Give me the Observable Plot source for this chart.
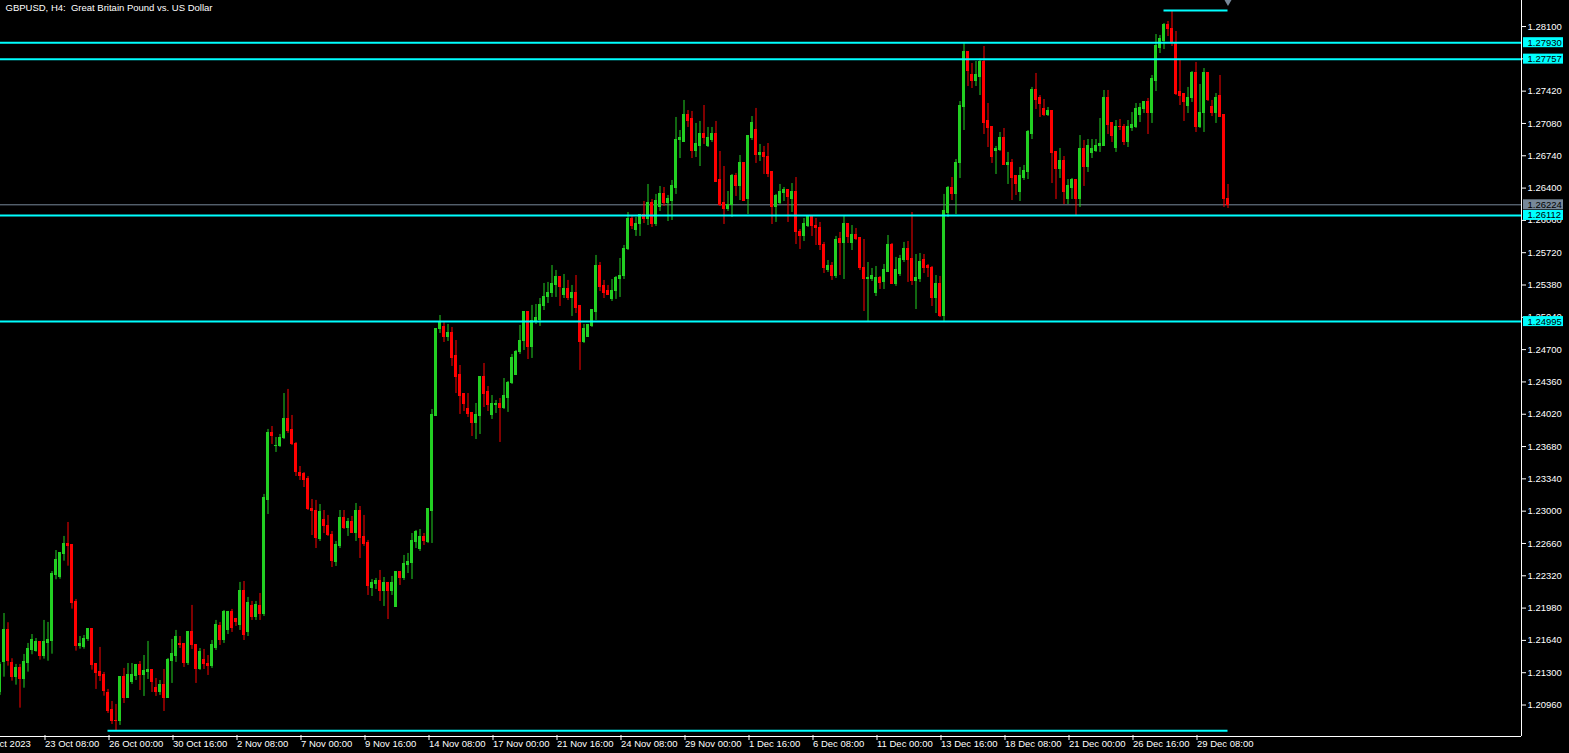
<!DOCTYPE html>
<html><head><meta charset="utf-8">
<script src="https://cdn.jsdelivr.net/npm/d3@7"></script>
<script src="https://cdn.jsdelivr.net/npm/@observablehq/plot@0.6"></script>
<style>html,body{margin:0;padding:0;background:#000;overflow:hidden}</style>
</head><body><div id="chart"></div>
<script>
const opens=[1.21092,1.21411,1.21745,1.21397,1.21253,1.21345,1.21229,1.21400,1.21534,1.21527,
1.21618,1.21481,1.21611,1.21632,1.22323,1.22302,1.22544,1.22650,1.22639,1.22039,
1.21579,1.21569,1.21650,1.21755,1.21387,1.21303,1.21271,1.21082,1.20903,1.20797,
1.20787,1.21250,1.21039,1.21197,1.21261,1.21376,1.21271,1.21303,1.21324,1.21134,
1.21092,1.21166,1.21039,1.21418,1.21481,1.21597,1.21597,1.21397,1.21724,1.21587,
1.21334,1.21439,1.21387,1.21366,1.21555,1.21787,1.21639,1.21745,1.21934,1.21860,
1.21797,1.22155,1.21724,1.21997,1.21881,1.21997,1.21923,1.23113,1.23818,1.23681,
1.23681,1.23765,1.23975,1.23849,1.23712,1.23397,1.23386,1.23334,1.23028,1.23007,
1.22702,1.22902,1.22849,1.22744,1.22460,1.22629,1.22923,1.22828,1.22881,1.22765,
1.22997,1.22723,1.22660,1.22187,1.22229,1.22260,1.22155,1.22239,1.22155,1.21987,
1.22355,1.22292,1.22429,1.22450,1.22671,1.22597,1.22723,1.22671,1.23007,1.23997,
1.24912,1.24933,1.24828,1.24880,1.24628,1.24428,1.24228,1.24070,1.24028,1.23933,
1.23997,1.24407,1.24249,1.24007,1.24112,1.24133,1.24081,1.24196,1.24344,1.24438,
1.24670,1.24786,1.25091,1.24723,1.24996,1.25007,1.25154,1.25249,1.25291,1.25375,
1.25459,1.25270,1.25343,1.25238,1.25291,1.25154,1.24775,1.24828,1.24944,1.25101,
1.25575,1.25365,1.25312,1.25228,1.25312,1.25438,1.25470,1.25754,1.26070,1.25964,
1.26017,1.26112,1.26070,1.26248,1.26017,1.26206,1.26333,1.26238,1.26269,1.26406,
1.26901,1.26880,1.27174,1.27122,1.26785,1.26838,1.26964,1.26848,1.26911,1.26974,
1.26480,1.26248,1.26185,1.26217,1.26522,1.26427,1.26669,1.26280,1.26932,1.27006,
1.26743,1.26764,1.26732,1.26564,1.26206,1.26238,1.26343,1.26385,1.26290,1.26354,
1.25943,1.25891,1.26006,1.26101,1.26006,1.25985,1.25796,1.25533,1.25585,1.25480,
1.25859,1.25817,1.26017,1.25817,1.25901,1.25870,1.25564,1.25438,1.25438,1.25291,
1.25449,1.25407,1.25522,1.25806,1.25386,1.25491,1.25638,1.25754,1.25649,1.25417,
1.25438,1.25638,1.25575,1.25564,1.25238,1.25386,1.25059,1.26143,1.26396,1.26333,
1.26659,1.27248,1.27827,1.27585,1.27522,1.27574,1.27732,1.27101,1.27038,1.26785,
1.26796,1.26922,1.26648,1.26669,1.26522,1.26364,1.26511,1.26564,1.26974,1.27427,
1.27343,1.27227,1.27174,1.27206,1.26775,1.26596,1.26690,1.26280,1.26406,1.26490,
1.26290,1.26806,1.26627,1.26764,1.26785,1.26838,1.26838,1.27343,1.27080,1.26817,
1.27048,1.27048,1.26890,1.27027,1.27048,1.27174,1.27227,1.27311,1.27185,1.27532,
1.27879,1.27953,1.28121,1.28079,1.27932,1.27406,1.27385,1.27259,1.27343,1.27616,
1.27038,1.27185,1.27616,1.27248,1.27185,1.27364,1.27164,1.26290];
const highs=[1.21408,1.21923,1.21826,1.21447,1.21387,1.21387,1.21492,1.21608,1.21702,1.21660,
1.21618,1.21850,1.21829,1.22365,1.22586,1.22565,1.22734,1.22881,1.22639,1.22071,
1.21681,1.21692,1.21755,1.21755,1.21387,1.21566,1.21303,1.21124,1.20997,1.20966,
1.21250,1.21345,1.21397,1.21397,1.21387,1.21418,1.21481,1.21629,1.21324,1.21239,
1.21218,1.21334,1.21450,1.21650,1.21745,1.21681,1.21608,1.21734,1.22008,1.21597,
1.21555,1.21545,1.21481,1.21639,1.21850,1.21829,1.21955,1.21945,1.21966,1.21871,
1.22250,1.22260,1.22092,1.22050,1.22050,1.22134,1.23176,1.23860,1.23891,1.23775,
1.23807,1.24238,1.24281,1.24007,1.23723,1.23470,1.23407,1.23365,1.23123,1.23113,
1.23070,1.23007,1.22955,1.22786,1.22681,1.23007,1.23007,1.22923,1.22944,1.23081,
1.23049,1.22955,1.22692,1.22281,1.22292,1.22376,1.22302,1.22250,1.22313,1.22355,
1.22355,1.22534,1.22555,1.22765,1.22797,1.22807,1.22765,1.23028,1.24070,1.24922,
1.25059,1.24986,1.24965,1.24933,1.24796,1.24533,1.24228,1.24238,1.24039,1.24133,
1.24417,1.24554,1.24312,1.24217,1.24165,1.24186,1.24396,1.24365,1.24649,1.24691,
1.24954,1.25091,1.25091,1.25165,1.25175,1.25238,1.25396,1.25407,1.25585,1.25533,
1.25459,1.25491,1.25428,1.25375,1.25480,1.25165,1.24965,1.24965,1.25122,1.25691,
1.25617,1.25428,1.25375,1.25438,1.25470,1.25659,1.25796,1.26143,1.26112,1.26091,
1.26112,1.26259,1.26438,1.26280,1.26333,1.26417,1.26406,1.26322,1.26480,1.27143,
1.27006,1.27322,1.27216,1.27206,1.27080,1.27101,1.27269,1.27038,1.27038,1.27101,
1.26785,1.26627,1.26364,1.26543,1.26554,1.26743,1.26669,1.26953,1.27153,1.27238,
1.26859,1.26838,1.26869,1.26564,1.26333,1.26438,1.26406,1.26385,1.26448,1.26511,
1.25964,1.26080,1.26101,1.26101,1.26080,1.26038,1.25828,1.25638,1.25617,1.25891,
1.25933,1.26101,1.26017,1.26006,1.25975,1.25870,1.25859,1.25617,1.25554,1.25575,
1.25470,1.25596,1.25901,1.25817,1.25670,1.25691,1.25828,1.25838,1.26143,1.25701,
1.25712,1.25701,1.25596,1.25575,1.25480,1.25470,1.26333,1.26417,1.26511,1.26701,
1.27311,1.27930,1.27827,1.27711,1.27732,1.27757,1.27890,1.27290,1.27038,1.26838,
1.26985,1.27027,1.26775,1.26701,1.26522,1.26617,1.26638,1.27006,1.27459,1.27606,
1.27374,1.27332,1.27248,1.27206,1.26785,1.26817,1.26732,1.26490,1.26501,1.26490,
1.26953,1.26901,1.26911,1.26911,1.26911,1.27132,1.27427,1.27427,1.27090,1.27111,
1.27122,1.27069,1.27111,1.27195,1.27290,1.27290,1.27311,1.27343,1.27585,1.28016,
1.28006,1.28132,1.28153,1.28268,1.28048,1.27743,1.27385,1.27459,1.27627,1.27722,
1.27490,1.27658,1.27616,1.27322,1.27395,1.27585,1.27174,1.26438];
const lows=[1.21061,1.21253,1.21369,1.21211,1.21169,1.20927,1.21137,1.21306,1.21489,1.21516,
1.21432,1.21443,1.21421,1.21495,1.22278,1.22284,1.22474,1.22421,1.21969,1.21527,
1.21548,1.21548,1.21629,1.21327,1.21124,1.21208,1.21053,1.20871,1.20755,1.20689,
1.20745,1.20976,1.21029,1.21176,1.21218,1.21113,1.21050,1.21229,1.21092,1.21050,
1.21061,1.20892,1.21039,1.21187,1.21408,1.21555,1.21355,1.21376,1.21545,1.21187,
1.21324,1.21334,1.21271,1.21345,1.21534,1.21587,1.21608,1.21702,1.21724,1.21787,
1.21745,1.21639,1.21681,1.21850,1.21850,1.21850,1.21892,1.22965,1.23702,1.23618,
1.23670,1.23754,1.23818,1.23691,1.23365,1.23323,1.23249,1.23007,1.22744,1.22607,
1.22681,1.22765,1.22734,1.22407,1.22418,1.22607,1.22807,1.22734,1.22765,1.22681,
1.22502,1.22629,1.22113,1.22102,1.22176,1.22050,1.21997,1.21860,1.22113,1.21987,
1.22218,1.22271,1.22344,1.22281,1.22607,1.22576,1.22639,1.22660,1.22660,1.23997,
1.24870,1.24775,1.24786,1.24523,1.24238,1.24018,1.24049,1.23986,1.23786,1.23754,
1.23807,1.24091,1.24049,1.23965,1.24028,1.23723,1.24070,1.24039,1.24333,1.24438,
1.24649,1.24691,1.24596,1.24607,1.24965,1.24944,1.25112,1.25186,1.25249,1.25249,
1.25154,1.25238,1.25217,1.25049,1.25080,1.24481,1.24765,1.24828,1.24933,1.25007,
1.25312,1.25238,1.25280,1.25207,1.25228,1.25249,1.25438,1.25743,1.25964,1.25891,
1.25891,1.26027,1.26006,1.25985,1.25996,1.26154,1.26206,1.26048,1.26059,1.26333,
1.26711,1.26880,1.27038,1.26711,1.26722,1.26627,1.26859,1.26827,1.26880,1.26459,
1.26206,1.26017,1.26154,1.26091,1.26312,1.26269,1.26259,1.26122,1.26901,1.26659,
1.26680,1.26543,1.26511,1.26017,1.26038,1.26227,1.26259,1.26038,1.26143,1.25806,
1.25754,1.25838,1.25985,1.25891,1.25796,1.25743,1.25501,1.25512,1.25428,1.25449,
1.25480,1.25438,1.25817,1.25743,1.25849,1.25533,1.25101,1.24995,1.25417,1.25259,
1.25333,1.25333,1.25522,1.25386,1.25365,1.25470,1.25617,1.25407,1.25375,1.25122,
1.25407,1.25501,1.25459,1.25154,1.25080,1.25038,1.24995,1.26091,1.26269,1.26122,
1.26501,1.27006,1.27469,1.27448,1.27469,1.27374,1.26964,1.26827,1.26659,1.26543,
1.26785,1.26638,1.26438,1.26269,1.26322,1.26259,1.26480,1.26490,1.26911,1.27227,
1.27143,1.27153,1.27153,1.26448,1.26280,1.26501,1.26227,1.26227,1.26280,1.26112,
1.26196,1.26417,1.26564,1.26711,1.26775,1.26775,1.26838,1.26964,1.26880,1.26775,
1.27006,1.26848,1.26827,1.26996,1.27027,1.27090,1.27185,1.26964,1.27080,1.27416,
1.27816,1.27858,1.27995,1.27890,1.27374,1.27269,1.27101,1.27185,1.27301,1.26985,
1.27027,1.26985,1.27311,1.27153,1.27080,1.27153,1.26196,1.26185];
const closes=[1.21376,1.21745,1.21418,1.21253,1.21345,1.21229,1.21408,1.21545,1.21639,1.21618,
1.21481,1.21618,1.21639,1.22334,1.22481,1.22555,1.22650,1.22632,1.22032,1.21579,
1.21597,1.21660,1.21755,1.21376,1.21292,1.21264,1.21103,1.20892,1.20787,1.20787,
1.21250,1.21039,1.21271,1.21271,1.21376,1.21271,1.21313,1.21324,1.21197,1.21092,
1.21166,1.21039,1.21429,1.21492,1.21681,1.21587,1.21397,1.21724,1.21587,1.21334,
1.21513,1.21387,1.21366,1.21587,1.21797,1.21639,1.21934,1.21934,1.21766,1.21829,
1.22155,1.21692,1.22029,1.21881,1.22008,1.21923,1.23134,1.23818,1.23786,1.23691,
1.23775,1.23975,1.23839,1.23702,1.23407,1.23365,1.23323,1.23018,1.22997,1.22713,
1.22986,1.22839,1.22744,1.22471,1.22639,1.22923,1.22828,1.22881,1.22765,1.22997,
1.22713,1.22650,1.22208,1.22239,1.22260,1.22165,1.22239,1.22155,1.22239,1.22355,
1.22292,1.22439,1.22460,1.22681,1.22776,1.22723,1.22681,1.23018,1.24007,1.24922,
1.24986,1.24828,1.24880,1.24617,1.24407,1.24217,1.24133,1.24018,1.23933,1.24007,
1.24407,1.24238,1.24112,1.24123,1.24133,1.24081,1.24207,1.24354,1.24617,1.24680,
1.24796,1.25091,1.24723,1.24996,1.25028,1.25165,1.25259,1.25301,1.25386,1.25459,
1.25354,1.25343,1.25238,1.25291,1.25133,1.24775,1.24922,1.24954,1.25112,1.25575,
1.25354,1.25291,1.25280,1.25322,1.25449,1.25480,1.25764,1.26070,1.26006,1.26027,
1.26112,1.26070,1.26248,1.26017,1.26259,1.26333,1.26238,1.26280,1.26417,1.26911,
1.26922,1.27174,1.27111,1.26785,1.26859,1.26964,1.26922,1.26922,1.26974,1.26469,
1.26227,1.26185,1.26227,1.26522,1.26427,1.26669,1.26269,1.26943,1.27090,1.26743,
1.26764,1.26722,1.26543,1.26206,1.26312,1.26354,1.26385,1.26301,1.26354,1.25933,
1.25891,1.26017,1.26101,1.26006,1.25975,1.25796,1.25564,1.25585,1.25480,1.25849,
1.25817,1.26017,1.25880,1.25901,1.25859,1.25554,1.25438,1.25449,1.25480,1.25449,
1.25396,1.25533,1.25806,1.25386,1.25543,1.25649,1.25754,1.25638,1.25417,1.25449,
1.25617,1.25564,1.25554,1.25238,1.25386,1.25059,1.26164,1.26396,1.26333,1.26669,
1.27259,1.27827,1.27637,1.27522,1.27585,1.27732,1.27090,1.27027,1.26722,1.26806,
1.26922,1.26648,1.26659,1.26511,1.26448,1.26522,1.26575,1.26985,1.27427,1.27332,
1.27280,1.27174,1.27206,1.26764,1.26596,1.26690,1.26364,1.26417,1.26490,1.26290,
1.26806,1.26627,1.26838,1.26806,1.26848,1.26859,1.27343,1.27069,1.26953,1.27048,
1.27038,1.26890,1.27038,1.27059,1.27227,1.27238,1.27311,1.27185,1.27543,1.27890,
1.27964,1.28121,1.28069,1.27922,1.27395,1.27374,1.27301,1.27353,1.27616,1.27038,
1.27195,1.27616,1.27322,1.27185,1.27353,1.27153,1.26280,1.26224];

const priceTicks=[1.20960,1.21300,1.21640,1.21980,1.22320,1.22660,1.23000,1.23340,1.23680,1.24020,1.24360,
1.24700,1.25040,1.25380,1.25720,1.26060,1.26400,1.26740,1.27080,1.27420,1.27760,1.28100];
const timeTickBars=[-5.5,11,27,43,59,75,91,107,123,139,155,171,187,203,219,235,251,267,283,299];
const timeTickLabels=["20 Oct 2023","23 Oct 08:00","26 Oct 00:00","30 Oct 16:00","2 Nov 08:00","7 Nov 00:00",
"9 Nov 16:00","14 Nov 08:00","17 Nov 00:00","21 Nov 16:00","24 Nov 08:00","29 Nov 00:00","1 Dec 16:00",
"6 Dec 08:00","11 Dec 00:00","13 Dec 16:00","18 Dec 08:00","21 Dec 00:00","26 Dec 16:00","29 Dec 08:00"];
const levelPrices=[1.27930,1.27757,1.26112,1.24995];
const segPrices=[1.20689,1.28268];
const segStart=[27,291];
const segEnd=[307,307];
const bidPrice=1.26224;
const title="GBPUSD, H4:\u00a0 Great Britain Pound vs. US Dollar";

const bars=opens.map((o,i)=>({i,o,h:highs[i],l:lows[i],c:closes[i],up:closes[i]>=o}));
const X0=0.125, X1=380.375, Y0=1.206287, Y1=1.28374;
const UP="#22cf22", DN="#ff0000", CY="#00ffff", GR="#778899";
const labelMap=new Map(timeTickBars.map((b,k)=>[b,timeTickLabels[k]]));

const chart=Plot.plot({
  width:1569,height:753,marginLeft:0,marginRight:48,marginTop:0,marginBottom:17,
  style:{background:"#000",color:"#fff",fontFamily:"'Liberation Sans', Arial, sans-serif",fontSize:"9.5px"},
  x:{type:"linear",domain:[X0,X1],label:null},
  y:{type:"linear",domain:[Y0,Y1],label:null},
  color:{type:"identity"},
  marks:[
    Plot.ruleY([bidPrice],{stroke:GR,strokeWidth:1}),
    Plot.ruleX(bars,{x:"i",y1:"l",y2:"h",stroke:d=>d.up?UP:DN,strokeWidth:1}),
    Plot.rect(bars,{x1:d=>d.i-0.375,x2:d=>d.i+0.375,y1:"o",y2:"c",fill:d=>d.up?UP:DN,insetTop:-0.5,insetBottom:-0.5,shapeRendering:"crispEdges"}),
    Plot.ruleY(levelPrices,{stroke:CY,strokeWidth:2}),
    Plot.ruleY([0,1],{y:k=>segPrices[k],x1:k=>segStart[k],x2:k=>segEnd[k],stroke:CY,strokeWidth:2}),
    Plot.dot([0],{x:()=>307,y:()=>Y1,symbol:"diamond",r:4,fill:GR,dy:-1}),
    Plot.ruleX([X1],{stroke:"#fff",strokeWidth:1}),
    Plot.ruleY([Y0],{stroke:"#fff",strokeWidth:1}),
    Plot.axisY(priceTicks,{anchor:"right",label:null,tickSize:4,tickPadding:2,tickFormat:d=>d.toFixed(5)}),
    Plot.axisX(timeTickBars,{anchor:"bottom",label:null,tickSize:5,tickPadding:0,textAnchor:"start",dx:1,dy:-1,tickFormat:d=>labelMap.get(d)}),
    Plot.rect(levelPrices,{x1:()=>X1,x2:()=>X1,y1:d=>d,y2:d=>d,insetLeft:2,insetRight:-42,insetTop:-5,insetBottom:-5,fill:CY}),
    Plot.text(levelPrices,{x:()=>X1,y:d=>d,text:d=>d.toFixed(5),textAnchor:"start",dx:6,fill:"#000"}),
    Plot.rect([bidPrice],{x1:()=>X1,x2:()=>X1,y1:d=>d,y2:d=>d,insetLeft:2,insetRight:-42,insetTop:-5,insetBottom:-5,fill:GR}),
    Plot.text([bidPrice],{x:()=>X1,y:d=>d,text:d=>d.toFixed(5),textAnchor:"start",dx:6,fill:"#000"}),
    Plot.text([title],{frameAnchor:"top-left",dx:5,dy:4,lineAnchor:"top",textAnchor:"start",fill:"#fff"})
  ]
});
document.getElementById("chart").appendChild(chart);
</script>
</body></html>
